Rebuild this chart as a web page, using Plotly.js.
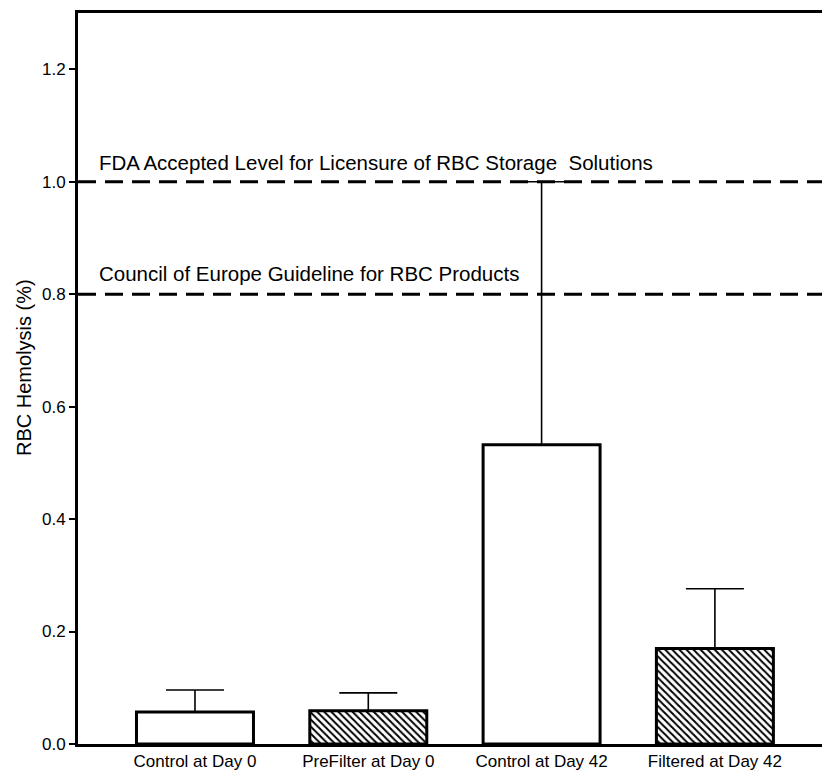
<!DOCTYPE html>
<html>
<head>
<meta charset="utf-8">
<script src="https://cdn.plot.ly/plotly-3.0.1.min.js"></script>
<style>html,body{margin:0;padding:0;background:#fff;}#chart{width:822px;height:772px;}</style>
</head>
<body>
<div id="chart"></div>
<script>
const categories = ["Control at Day 0", "PreFilter at Day 0", "Control at Day 42", "Filtered at Day 42"];
const hemolysis = [0.057, 0.059, 0.532, 0.170];
const errorPlus = [0.039, 0.032, 0.468, 0.106];
const hatched = [false, true, false, true];
const fdaLevel = 1.0;
const coeLevel = 0.8;
const fdaLabel = "FDA Accepted Level for Licensure of RBC Storage&nbsp;&nbsp;Solutions";
const coeLabel = "Council of Europe Guideline for RBC Products";
const yTitle = "RBC Hemolysis (%)";
const yTicks = [0, 0.2, 0.4, 0.6, 0.8, 1.0, 1.2];
const yTickText = ["0.0", "0.2", "0.4", "0.6", "0.8", "1.0", "1.2"];

const font = "Liberation Sans, Arial, Helvetica, sans-serif";

const trace = {
  type: "bar",
  x: categories,
  y: hemolysis,
  width: 0.675,
  marker: {
    color: "#ffffff",
    line: {color: "#000", width: 3},
    pattern: {
      shape: hatched.map(h => h ? "\\" : ""),
      fgcolor: "#000",
      bgcolor: "#fff",
      size: 5,
      solidity: 0.4,
      fillmode: "replace"
    }
  },
  error_y: {
    type: "data",
    symmetric: false,
    array: errorPlus,
    arrayminus: hemolysis.map(() => 0),
    color: "#000",
    thickness: 1.6,
    width: 29
  },
  hoverinfo: "none"
};

const layout = {
  width: 822,
  height: 772,
  margin: {l: 78, r: 0, t: 13, b: 28},
  paper_bgcolor: "#fff",
  plot_bgcolor: "#fff",
  showlegend: false,
  font: {family: font, color: "#000"},
  xaxis: {
    type: "category",
    range: [-0.675, 3.618],
    showline: true,
    linecolor: "#000",
    linewidth: 3,
    mirror: true,
    ticks: "",
    showgrid: false,
    zeroline: false,
    tickfont: {size: 17, family: font, color: "#000"},
    fixedrange: true
  },
  yaxis: {
    range: [0, 1.3],
    tickvals: yTicks,
    ticktext: yTickText,
    ticks: "outside",
    ticklen: 6,
    tickwidth: 2,
    tickcolor: "#000",
    showline: true,
    linecolor: "#000",
    linewidth: 3,
    showgrid: false,
    zeroline: false,
    tickfont: {size: 17, family: font, color: "#000"},
    fixedrange: true
  },
  shapes: [
    {type: "line", xref: "paper", x0: 0, x1: 1, yref: "y", y0: fdaLevel, y1: fdaLevel,
     line: {color: "#000", width: 3, dash: "18px,9px"}, layer: "above"},
    {type: "line", xref: "paper", x0: 0, x1: 1, yref: "y", y0: coeLevel, y1: coeLevel,
     line: {color: "#000", width: 3, dash: "18px,9px"}, layer: "above"}
  ],
  annotations: [
    {xref: "paper", x: 0.0255, yref: "y", y: fdaLevel + 0.034, text: fdaLabel, showarrow: false,
     xanchor: "left", yanchor: "middle", font: {size: 20.5, family: font, color: "#000"}},
    {xref: "paper", x: 0.0255, yref: "y", y: coeLevel + 0.036, text: coeLabel, showarrow: false,
     xanchor: "left", yanchor: "middle", font: {size: 20.5, family: font, color: "#000"}},
    {xref: "paper", x: -0.0733, yref: "paper", y: 0.515, text: yTitle, showarrow: false,
     textangle: -90, xanchor: "center", yanchor: "middle", font: {size: 20, family: font, color: "#000"}}
  ]
};

Plotly.newPlot("chart", [trace], layout, {displayModeBar: false, staticPlot: true});
</script>
</body>
</html>
